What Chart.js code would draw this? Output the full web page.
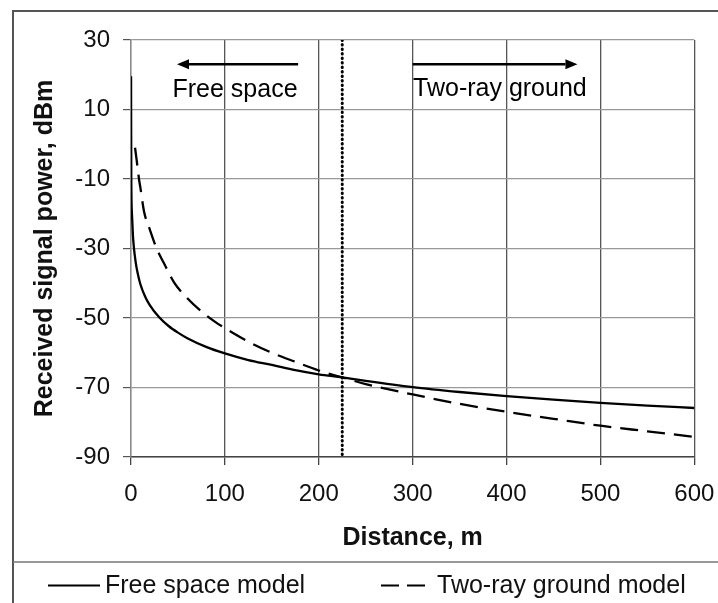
<!DOCTYPE html>
<html>
<head>
<meta charset="utf-8">
<script src="https://cdn.jsdelivr.net/npm/chart.js@4.4.1/dist/chart.umd.min.js"></script>
<style>
  html, body { margin: 0; padding: 0; background: #fff; }
  #wrap { width: 718px; height: 603px; }
</style>
</head>
<body>
<div id="wrap"><canvas id="chart" width="718" height="603"></canvas></div>
<script>
// distance (m) and received power (dBm)
const freeSpaceDist = [0.05, 0.3, 1, 2, 3, 5, 7, 10, 15, 20, 30, 40, 50, 60, 80, 100, 125, 150, 175, 200, 225, 250, 300, 350, 400, 450, 500, 550, 600];
const freeSpacePower = [19.6, -9.5, -20, -26, -29.5, -34, -37, -40.3, -43.8, -46.3, -49.8, -52.3, -54.2, -55.8, -58.3, -60.2, -62.1, -63.5, -65, -66.2, -67.1, -68.1, -69.9, -71.3, -72.5, -73.5, -74.4, -75.2, -75.9];

const twoRayDist = [4.3, 6, 8.5, 10, 14, 20, 27, 35, 46, 60, 75, 90, 100, 125, 150, 175, 200, 225, 250, 300, 350, 400, 450, 500, 550, 600];
const twoRayPower = [-1, -4.5, -10, -12.5, -19.5, -24.5, -29.8, -34.2, -39.8, -44.3, -48.1, -51.2, -52.9, -56.8, -60, -62.6, -65.1, -67.1, -69, -72, -74.7, -77, -79, -81, -82.6, -84.2];

// crossover distance between the two models
const boundaryDist = [225, 225];
const boundaryPower = [30, -90];

const xTicks = [0, 100, 200, 300, 400, 500, 600];
const yTicks = [30, 10, -10, -30, -50, -70, -90];
const seriesNames = ["Free space model", "Two-ray ground model"];

const FONT = "'Liberation Sans', Arial, Helvetica, sans-serif";

const toPoints = (xs, ys) => xs.map((x, i) => ({ x: x, y: ys[i] }));

// arrows + region labels, in data units
const regionNotes = [
    { text: "Free space", tail: 178, tip: 49, arrowY: 23, textX: 110.8, textY: 13.6, align: "center" },
    { text: "Two-ray ground", tail: 300, tip: 475.5, arrowY: 23, textX: 300.4, textY: 13.9, align: "left" }
];

const drawArrow = (ctx, x1, x2, y) => {
    const dir = x2 > x1 ? 1 : -1;
    const head = 12;
    ctx.beginPath();
    ctx.moveTo(x1, y);
    ctx.lineTo(x2 - dir * head, y);
    ctx.stroke();
    ctx.beginPath();
    ctx.moveTo(x2, y);
    ctx.lineTo(x2 - dir * head, y - 5);
    ctx.lineTo(x2 - dir * head, y + 5);
    ctx.closePath();
    ctx.fill();
};

const extras = {
    id: "extras",
    beforeDraw(chart) {
        const ctx = chart.ctx;
        ctx.save();
        ctx.fillStyle = "#fff";
        ctx.fillRect(0, 0, chart.width, chart.height);
        // outer frame and legend separator
        ctx.strokeStyle = "#555";
        ctx.lineWidth = 2;
        ctx.beginPath();
        ctx.moveTo(13, chart.height);
        ctx.lineTo(13, 11);
        ctx.lineTo(chart.width, 11);
        ctx.stroke();
        ctx.strokeStyle = "#777";
        ctx.lineWidth = 1.5;
        ctx.beginPath();
        ctx.moveTo(13, 562);
        ctx.lineTo(chart.width, 562);
        ctx.stroke();
        ctx.restore();
    },
    afterDatasetsDraw(chart) {
        const ctx = chart.ctx;
        const xs = chart.scales.x;
        const ys = chart.scales.y;
        ctx.save();
        ctx.strokeStyle = "#000";
        ctx.fillStyle = "#000";
        ctx.lineWidth = 2.5;
        ctx.font = "25px " + FONT;
        ctx.textBaseline = "alphabetic";
        regionNotes.forEach(n => {
            const y = ys.getPixelForValue(n.arrowY);
            drawArrow(ctx, xs.getPixelForValue(n.tail), xs.getPixelForValue(n.tip), y);
            ctx.textAlign = n.align;
            ctx.fillText(n.text, xs.getPixelForValue(n.textX), ys.getPixelForValue(n.textY));
        });
        ctx.restore();
    },
    afterDraw(chart) {
        // legend below the separator
        const ctx = chart.ctx;
        const slots = [{ x: 48, w: 52, textX: 105 }, { x: 381, w: 48, textX: 437 }];
        ctx.save();
        ctx.font = "25px " + FONT;
        ctx.textAlign = "left";
        ctx.textBaseline = "alphabetic";
        ctx.fillStyle = "#111";
        seriesNames.forEach((name, i) => {
            const ds = chart.data.datasets[i];
            const s = slots[i];
            ctx.strokeStyle = "#000";
            ctx.lineWidth = 2.2;
            ctx.setLineDash(i === 1 ? [18, 8] : []);
            ctx.beginPath();
            ctx.moveTo(s.x, 585.5);
            ctx.lineTo(s.x + s.w, 585.5);
            ctx.stroke();
            ctx.fillText(ds.label, s.textX, 593);
        });
        ctx.restore();
    }
};

new Chart(document.getElementById("chart"), {
    type: "line",
    data: {
        datasets: [
            {
                label: seriesNames[0],
                data: toPoints(freeSpaceDist, freeSpacePower),
                borderColor: "#000",
                borderWidth: 2.3,
                pointRadius: 0,
                cubicInterpolationMode: "monotone",
                fill: false
            },
            {
                label: seriesNames[1],
                data: toPoints(twoRayDist, twoRayPower),
                borderColor: "#000",
                borderWidth: 2.3,
                borderDash: [18, 9],
                pointRadius: 0,
                cubicInterpolationMode: "monotone",
                fill: false
            },
            {
                label: "boundary",
                data: toPoints(boundaryDist, boundaryPower),
                borderColor: "#000",
                borderWidth: 3,
                borderDash: [0.5, 4],
                borderCapStyle: "round",
                pointRadius: 0,
                fill: false
            }
        ]
    },
    options: {
        responsive: false,
        devicePixelRatio: 1,
        animation: false,
        layout: { padding: { left: 0, top: 40, right: 23.7, bottom: 46 } },
        plugins: {
            legend: { display: false },
            tooltip: { enabled: false }
        },
        scales: {
            x: {
                type: "linear",
                min: 0,
                max: 600,
                afterBuildTicks: s => { s.ticks = xTicks.map(v => ({ value: v })); },
                afterFit: s => { s.height = 100; s.paddingLeft = 0; s.paddingRight = 0; },
                ticks: { font: { family: FONT, size: 24 }, color: "#111", padding: 15, maxRotation: 0 },
                grid: { color: "#555", lineWidth: 1.3, tickLength: 8, tickColor: "#444" },
                border: { color: "#444", width: 1.5 },
                title: {
                    display: true,
                    text: "Distance, m",
                    color: "#111",
                    font: { family: FONT, size: 25, weight: "bold" },
                    padding: { top: 0, bottom: 4 }
                }
            },
            y: {
                type: "linear",
                min: -90,
                max: 30,
                afterBuildTicks: s => { s.ticks = yTicks.map(v => ({ value: v })); },
                afterFit: s => { s.width = 131; s.paddingTop = 0; s.paddingBottom = 0; },
                ticks: { font: { family: FONT, size: 24 }, color: "#111", padding: 13 },
                grid: { color: "#999", lineWidth: 1.2, tickLength: 8, tickColor: "#555" },
                border: { color: "#888", width: 1.3 },
                title: {
                    display: true,
                    text: "Received signal power, dBm",
                    color: "#111",
                    font: { family: FONT, size: 25, weight: "bold" },
                    padding: { top: 30, bottom: 0 }
                }
            }
        }
    },
    plugins: [extras]
});
</script>
</body>
</html>
